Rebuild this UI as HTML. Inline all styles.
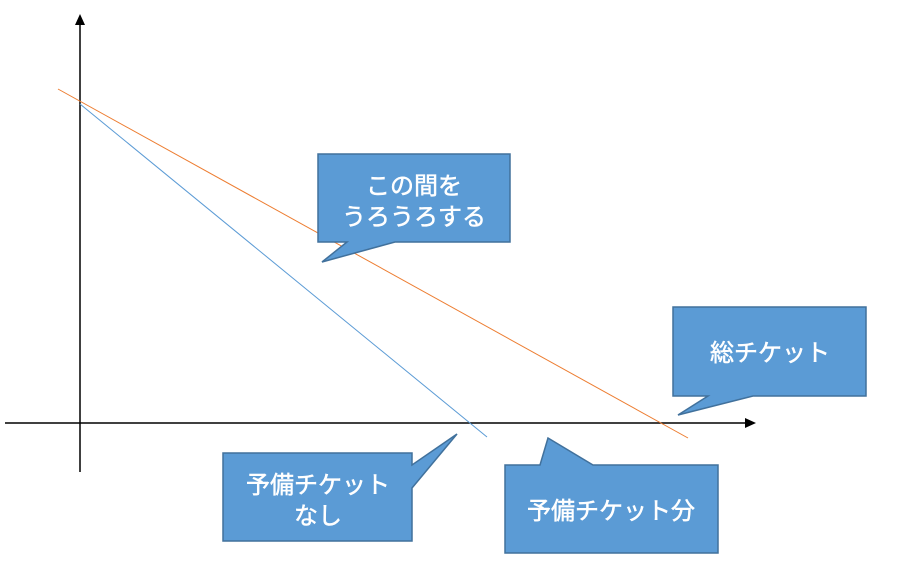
<!DOCTYPE html>
<html><head><meta charset="utf-8"><style>
html,body{margin:0;padding:0;background:#fff;}
svg{display:block}
text{font-family:"Liberation Sans","Noto Sans CJK JP",sans-serif;fill:#fff;stroke:#fff;stroke-width:0.5;font-size:24px;text-anchor:middle}
</style></head><body>
<svg width="906" height="588" viewBox="0 0 906 588" xmlns="http://www.w3.org/2000/svg">
<line x1="80" y1="472" x2="80" y2="24" stroke="#000" stroke-width="1.5"/>
<polygon points="80,14 75,25 85,25" fill="#000"/>
<line x1="5" y1="423" x2="745" y2="423" stroke="#000" stroke-width="1.5"/>
<polygon points="756,423 745,418 745,428" fill="#000"/>
<line x1="58" y1="89" x2="688" y2="438" stroke="#ED7D31" stroke-width="1"/>
<line x1="80" y1="104" x2="487" y2="437" stroke="#5B9BD5" stroke-width="1"/>
<g fill="#5B9BD5" stroke="#41719C" stroke-width="1.5">
<polygon points="318,154 510,154 510,242 395,242 322,262 347,242 318,242"/>
<polygon points="673,307 866,307 866,396 753,396 678,415 708,396 673,396"/>
<polygon points="223,453 412,453 412,465 457,434 412,488 412,541 223,541"/>
<polygon points="505,465 540,465 548,438 593,465 718,465 718,553 505,553"/>
</g>
<text x="414" y="194">この間を</text>
<text x="414" y="225">うろうろする</text>
<text x="770" y="361">総チケット</text>
<text x="318" y="493">予備チケット</text>
<text x="318" y="524">なし</text>
<text x="611" y="519">予備チケット分</text>
</svg>
</body></html>
